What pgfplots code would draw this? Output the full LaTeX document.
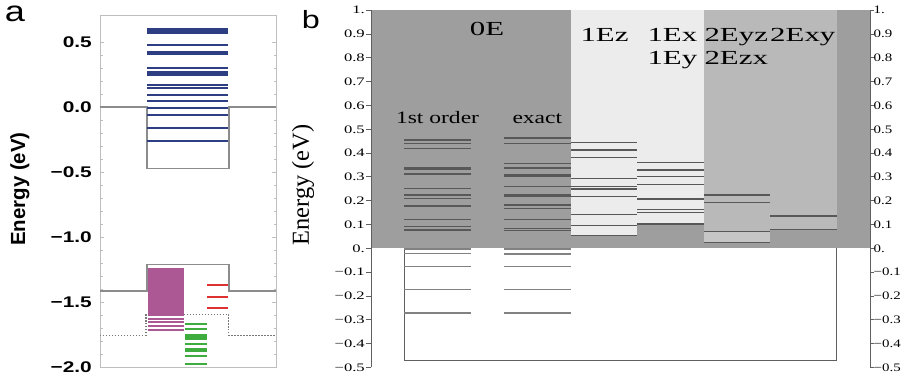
\documentclass[border=0pt]{standalone}
\usepackage{pgfplots}
\pgfplotsset{compat=1.18}
\usepackage{fontspec}
\usepackage{graphicx}
\setmainfont{Liberation Serif}
\newfontfamily\arial{Liberation Sans}
\definecolor{dreg}{RGB}{158,158,158}
\definecolor{lreg}{RGB}{236,236,236}
\definecolor{mreg}{RGB}{185,185,185}
\definecolor{mreg2}{RGB}{198,198,198}
\definecolor{lev}{RGB}{88,88,88}
\definecolor{levlow}{RGB}{130,130,130}
\definecolor{wellb}{RGB}{95,95,95}
\definecolor{wella}{RGB}{140,140,140}
\definecolor{dota}{RGB}{120,120,120}
\definecolor{framea}{RGB}{190,190,190}
\definecolor{bluelev}{RGB}{45,62,130}
\definecolor{magc}{RGB}{172,88,148}
\definecolor{grnc}{RGB}{62,172,62}
\definecolor{redc}{RGB}{222,50,50}
\newcommand{\sx}[2]{\scalebox{#1}[1]{#2}}
\begin{document}
\begin{tikzpicture}
\path[use as bounding box] (0,0) rectangle (903bp,383bp);

% ---------------- panel a ----------------
\begin{axis}[
  at={(100bp,16bp)}, anchor=south west,
  scale only axis, width=176bp, height=351bp,
  xmin=0, xmax=176, ymin=-2, ymax=0.7,
  xtick=\empty,
  ytick={-2,-1.5,-1,-0.5,0,0.5},
  yticklabels={\sx{1.35}{−2.0},\sx{1.35}{−1.5},\sx{1.35}{−1.0},\sx{1.35}{−0.5},\sx{1.35}{0.0},\sx{1.35}{0.5}},
  yticklabel style={font=\arial\bfseries\fontsize{15.5}{18}\selectfont, inner sep=0pt, xshift=-8bp},
  minor y tick num=4,
  tick align=inside,
  major tick length=4bp, minor tick length=2.5bp,
  every tick/.style={framea, line width=0.8pt},
  axis line style={draw=framea, line width=1pt},
  unbounded coords=jump,
  clip=false,
]
% conduction band well
\addplot[wella, line width=1.7pt] coordinates {(0,0) (46.7,0) (46.7,-0.474) (128.7,-0.474) (128.7,0) (176,0)};
% valence band
\addplot[wella, line width=1.7pt] coordinates {(0,-1.418) (46.7,-1.418) (46.7,-1.212) (128.7,-1.212) (128.7,-1.418) (176,-1.418)};
% dotted
\addplot[dota, dash pattern=on 1.4pt off 1.6pt, line width=1.4pt] coordinates {(0,-1.756) (46,-1.756) (46,-1.595) (128.7,-1.595) (128.7,-1.756) (176,-1.756)};
% magenta block
\addplot[fill=magc, draw=none] coordinates {(47.7,-1.235) (84.3,-1.235) (84.3,-1.61) (47.7,-1.61)} -- cycle;
\addplot[magc, line width=1.8pt] coordinates {
(47.7,-1.628) (84.3,-1.628) (47.7,nan)
(47.7,-1.655) (84.3,-1.655) (47.7,nan)
(47.7,-1.686) (84.3,-1.686) (47.7,nan)
(47.7,-1.718) (84.3,-1.718)};
% green
\addplot[grnc, line width=1.9pt] coordinates {
(85,-1.672) (106.7,-1.672) (85,nan)
(85,-1.705) (106.7,-1.705) (85,nan)
(85,-1.752) (106.7,-1.752) (85,nan)
(85,-1.766) (106.7,-1.766) (85,nan)
(85,-1.788) (106.7,-1.788) (85,nan)
(85,-1.820) (106.7,-1.820) (85,nan)
(85,-1.864) (106.7,-1.864) (85,nan)
(85,-1.879) (106.7,-1.879) (85,nan)
(85,-1.918) (106.7,-1.918) (85,nan)
(85,-1.980) (106.7,-1.980)};
% red
\addplot[redc, line width=1.9pt] coordinates {
(107,-1.372) (127.7,-1.372) (107,nan)
(107,-1.459) (127.7,-1.459) (107,nan)
(107,-1.543) (127.7,-1.543)};
% blue
\addplot[bluelev, line width=2.1pt] coordinates {
(47,0.600) (127.7,0.600) (47,nan)
(47,0.584) (127.7,0.584) (47,nan)
(47,0.568) (127.7,0.568) (47,nan)
(47,0.475) (127.7,0.475) (47,nan)
(47,0.425) (127.7,0.425) (47,nan)
(47,0.405) (127.7,0.405) (47,nan)
(47,0.300) (127.7,0.300) (47,nan)
(47,0.266) (127.7,0.266) (47,nan)
(47,0.250) (127.7,0.250) (47,nan)
(47,0.166) (127.7,0.166) (47,nan)
(47,0.145) (127.7,0.145) (47,nan)
(47,0.090) (127.7,0.090) (47,nan)
(47,0.046) (127.7,0.046) (47,nan)
(47,-0.005) (127.7,-0.005) (47,nan)
(47,-0.064) (127.7,-0.064) (47,nan)
(47,-0.161) (127.7,-0.161) (47,nan)
(47,-0.264) (127.7,-0.264)};
\end{axis}
\node[anchor=base, font=\arial\fontsize{29}{32}\selectfont] at (15bp,361.3bp) {\sx{1.25}{a}};
\node[rotate=90, font=\arial\bfseries\fontsize{20.5}{24}\selectfont] at (20bp,194bp) {Energy (eV)};

% ---------------- panel b ----------------
\begin{axis}[
  at={(371bp,15.7bp)}, anchor=south west,
  scale only axis, width=499bp, height=357bp,
  xmin=0, xmax=7.5, ymin=-0.5, ymax=1,
  xtick=\empty,
  ytick={-0.5,-0.4,...,1.01},
  yticklabels={\sx{1.45}{−0.5},\sx{1.45}{−0.4},\sx{1.45}{−0.3},\sx{1.45}{−0.2},\sx{1.45}{−0.1},\sx{1.45}{0.},\sx{1.45}{0.1},\sx{1.45}{0.2},\sx{1.45}{0.3},\sx{1.45}{0.4},\sx{1.45}{0.5},\sx{1.45}{0.6},\sx{1.45}{0.7},\sx{1.45}{0.8},\sx{1.45}{0.9},\sx{1.45}{1.}},
  yticklabel style={font=\fontsize{11.5}{13}\selectfont, inner sep=1bp},
  ytick pos=left,
  tick align=outside, major tick length=5bp,
  every tick/.style={wellb, line width=0.8pt},
  axis line style={draw=none},
  unbounded coords=jump,
  clip=false,
]
\addplot[fill=dreg, draw=none] coordinates {(0,0) (7.5,0) (7.5,1) (0,1)} -- cycle;
\addplot[fill=lreg, draw=none] coordinates {(3,0.055) (4,0.055) (4,1) (3,1)} -- cycle;
\addplot[fill=lreg, draw=none] coordinates {(4,0.102) (5,0.102) (5,1) (4,1)} -- cycle;
\addplot[fill=mreg, draw=none] coordinates {(5,0.025) (6,0.025) (6,1) (5,1)} -- cycle;
\addplot[fill=mreg, draw=none] coordinates {(6,0.080) (7,0.080) (7,1) (6,1)} -- cycle;
\addplot[fill=mreg2, draw=none] coordinates {(5,0.025) (6,0.025) (6,0.070) (5,0.070)} -- cycle;
% well outline
\addplot[wellb, line width=1pt] coordinates {(0.5,0) (0.5,-0.473) (7,-0.473) (7,0)};
% 1st order
\addplot[lev, line width=1.2pt] coordinates {
(0.5,0.455) (1.5,0.455) (0.5,nan)
(0.5,0.441) (1.5,0.441) (0.5,nan)
(0.5,0.420) (1.5,0.420) (0.5,nan)
(0.5,0.337) (1.5,0.337) (0.5,nan)
(0.5,0.332) (1.5,0.332) (0.5,nan)
(0.5,0.312) (1.5,0.312) (0.5,nan)
(0.5,0.252) (1.5,0.252) (0.5,nan)
(0.5,0.224) (1.5,0.224) (0.5,nan)
(0.5,0.210) (1.5,0.210) (0.5,nan)
(0.5,0.178) (1.5,0.178) (0.5,nan)
(0.5,0.122) (1.5,0.122) (0.5,nan)
(0.5,0.091) (1.5,0.091) (0.5,nan)
(0.5,0.077) (1.5,0.077)};
\addplot[levlow, line width=1.1pt] coordinates {
(0.5,-0.003) (1.5,-0.003) (0.5,nan)
(0.5,-0.021) (1.5,-0.021) (0.5,nan)
(0.5,-0.075) (1.5,-0.075) (0.5,nan)
(0.5,-0.173) (1.5,-0.173) (0.5,nan)
(0.5,-0.272) (1.5,-0.272)};
% exact
\addplot[lev, line width=1.2pt] coordinates {
(2,0.466) (3,0.466) (2,nan)
(2,0.460) (3,0.460) (2,nan)
(2,0.441) (3,0.441) (2,nan)
(2,0.357) (3,0.357) (2,nan)
(2,0.339) (3,0.339) (2,nan)
(2,0.334) (3,0.334) (2,nan)
(2,0.308) (3,0.308) (2,nan)
(2,0.303) (3,0.303) (2,nan)
(2,0.259) (3,0.259) (2,nan)
(2,0.224) (3,0.224) (2,nan)
(2,0.218) (3,0.218) (2,nan)
(2,0.182) (3,0.182) (2,nan)
(2,0.168) (3,0.168) (2,nan)
(2,0.122) (3,0.122) (2,nan)
(2,0.082) (3,0.082) (2,nan)
(2,0.076) (3,0.076)};
\addplot[levlow, line width=1.1pt] coordinates {
(2,-0.003) (3,-0.003) (2,nan)
(2,-0.021) (3,-0.021) (2,nan)
(2,-0.026) (3,-0.026) (2,nan)
(2,-0.076) (3,-0.076) (2,nan)
(2,-0.174) (3,-0.174) (2,nan)
(2,-0.272) (3,-0.272)};
% 1Ez
\addplot[lev, line width=1.2pt] coordinates {
(3,0.445) (4,0.445) (3,nan)
(3,0.413) (4,0.413) (3,nan)
(3,0.381) (4,0.381) (3,nan)
(3,0.294) (4,0.294) (3,nan)
(3,0.259) (4,0.259) (3,nan)
(3,0.249) (4,0.249) (3,nan)
(3,0.217) (4,0.217) (3,nan)
(3,0.142) (4,0.142) (3,nan)
(3,0.097) (4,0.097) (3,nan)
(3,0.055) (4,0.055)};
% 1Ex 1Ey
\addplot[lev, line width=1.2pt] coordinates {
(4,0.360) (5,0.360) (4,nan)
(4,0.329) (5,0.329) (4,nan)
(4,0.301) (5,0.301) (4,nan)
(4,0.267) (5,0.267) (4,nan)
(4,0.207) (5,0.207) (4,nan)
(4,0.164) (5,0.164) (4,nan)
(4,0.152) (5,0.152) (4,nan)
(4,0.102) (5,0.102)};
% 2Eyz 2Ezx
\addplot[lev, line width=1.2pt] coordinates {
(5,0.224) (6,0.224) (5,nan)
(5,0.192) (6,0.192) (5,nan)
(5,0.070) (6,0.070) (5,nan)
(5,0.025) (6,0.025)};
% 2Exy
\addplot[lev, line width=1.2pt] coordinates {
(6,0.136) (7,0.136) (6,nan)
(6,0.080) (7,0.080)};
% spines
\addplot[wellb, line width=1pt] coordinates {(0,-0.5) (0,1)};
\addplot[wellb, line width=1pt] coordinates {(7.5,-0.5) (7.5,1)};
% labels
\node[anchor=base, font=\fontsize{20}{24}\selectfont] at (axis cs:1.745,0.896) {\sx{1.55}{0E}};
\node[anchor=base, font=\fontsize{17.5}{20}\selectfont] at (axis cs:1.0,0.525) {\sx{1.35}{1st order}};
\node[anchor=base, font=\fontsize{17.5}{20}\selectfont] at (axis cs:2.5,0.525) {\sx{1.35}{exact}};
\node[anchor=base, font=\fontsize{20}{24}\selectfont] at (axis cs:3.51,0.868) {\sx{1.55}{1Ez}};
\node[anchor=base, font=\fontsize{20}{24}\selectfont] at (axis cs:4.53,0.868) {\sx{1.55}{1Ex}};
\node[anchor=base, font=\fontsize{20}{24}\selectfont] at (axis cs:4.53,0.774) {\sx{1.55}{1Ey}};
\node[anchor=base, font=\fontsize{20}{24}\selectfont] at (axis cs:5.49,0.868) {\sx{1.55}{2Eyz}};
\node[anchor=base, font=\fontsize{20}{24}\selectfont] at (axis cs:6.49,0.868) {\sx{1.55}{2Exy}};
\node[anchor=base, font=\fontsize{20}{24}\selectfont] at (axis cs:5.49,0.774) {\sx{1.55}{2Ezx}};
\end{axis}
\begin{axis}[
  at={(371bp,15.7bp)}, anchor=south west,
  scale only axis, width=499bp, height=357bp,
  xmin=0, xmax=7.5, ymin=-0.5, ymax=1,
  xtick=\empty,
  ytick={-0.5,-0.4,...,1.01},
  yticklabels={\sx{1.3}{−0.5},\sx{1.3}{−0.4},\sx{1.3}{−0.3},\sx{1.3}{−0.2},\sx{1.3}{−0.1},\sx{1.3}{0.},\sx{1.3}{0.1},\sx{1.3}{0.2},\sx{1.3}{0.3},\sx{1.3}{0.4},\sx{1.3}{0.5},\sx{1.3}{0.6},\sx{1.3}{0.7},\sx{1.3}{0.8},\sx{1.3}{0.9},\sx{1.3}{1.}},
  yticklabel style={font=\fontsize{11.5}{13}\selectfont, inner sep=0pt},
  ytick pos=right, yticklabel pos=right,
  tick align=outside, major tick length=3.5bp,
  every tick/.style={wellb, line width=0.8pt},
  axis line style={draw=none},
]
\addplot[draw=none] coordinates {(0,0) (1,0)};
\end{axis}
\node[anchor=base, font=\arial\fontsize{25}{28}\selectfont] at (310.8bp,354.7bp) {\sx{1.3}{b}};
\node[rotate=90, font=\fontsize{24.5}{28}\selectfont] at (303bp,198bp) {Energy (eV)};
\end{tikzpicture}
\end{document}
